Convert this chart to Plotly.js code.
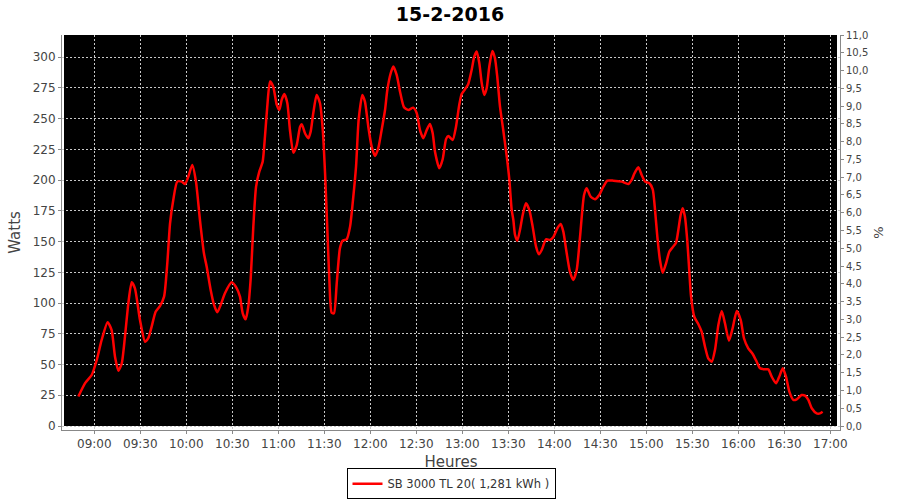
<!DOCTYPE html>
<html>
<head>
<meta charset="utf-8">
<script src="https://cdn.plot.ly/plotly-3.0.1.min.js"></script>
<style>
  html, body { margin: 0; padding: 0; background: #ffffff; }
  #chart { width: 900px; height: 500px; }
</style>
</head>
<body>
<div id="chart"></div>
<script>
// ---- Data ----
const chartDate = '2016-02-15';
const chartTitle = '15-2-2016';
const seriesName = 'SB 3000 TL 20( 1,281 kWh )';

// sample times, minutes after midnight
const minutes = [
  529.6, 533.9, 538.3, 541.6, 544.8, 548.7, 551.3, 553.5, 555.7, 557.9,
  560.0, 562.2, 564.4, 566.5, 569.8, 573.1, 575.2, 577.4, 580.0, 582.8,
  585.5, 587.6, 589.4, 591.5, 594.1, 597.0, 599.2, 601.3, 603.9, 606.3,
  608.9, 611.5, 613.3, 615.9, 618.1, 620.2, 622.4, 625.2, 629.6, 632.9,
  635.0, 636.8, 638.7, 640.4, 642.0, 643.7, 645.5, 647.6, 649.8, 651.3,
  652.8, 654.6, 656.7, 659.0, 660.7, 662.2, 663.9, 665.9, 667.6, 669.8,
  672.0, 674.2, 675.3, 677.4, 679.6, 681.1, 682.8, 685.0, 687.2, 689.0,
  690.5, 692.0, 693.3, 694.8, 696.3, 698.1, 700.2, 702.0, 704.6, 706.8,
  708.5, 710.7, 712.4, 714.8, 716.5, 718.7, 720.9, 723.1, 725.2, 727.4,
  729.6, 731.1, 733.3, 735.0, 737.2, 739.4, 742.0, 744.8, 748.0, 750.3,
  752.4, 754.6, 756.8, 758.9, 760.7, 762.2, 765.0, 767.2, 769.4, 770.9,
  773.7, 775.9, 778.0, 779.6, 781.8, 783.9, 786.1, 787.8, 789.4, 791.1,
  792.7, 794.3, 795.9, 797.6, 799.6, 801.3, 802.8, 804.6, 806.7, 809.0,
  810.7, 812.2, 813.3, 814.4, 815.9, 817.6, 819.4, 821.5, 823.7, 825.9,
  828.1, 830.0, 831.8, 834.6, 837.2, 839.3, 842.0, 844.2, 845.9, 848.1,
  850.2, 852.4, 854.6, 856.8, 859.4, 861.1, 863.7, 866.5, 869.3, 872.0,
  874.6, 878.5, 884.0, 888.3, 890.5, 892.3, 894.8, 897.0, 899.2, 902.0,
  904.2, 905.7, 907.2, 908.9, 910.7, 912.9, 915.0, 917.2, 919.4, 920.9,
  922.4, 923.7, 925.2, 926.7, 928.0, 929.2, 931.3, 933.9, 936.1, 938.3,
  940.4, 942.7, 944.8, 947.0, 949.2, 951.3, 953.9, 956.3, 959.0, 961.6,
  963.7, 966.5, 969.4, 972.0, 974.2, 977.4, 979.6, 981.8, 984.6, 986.7,
  989.0, 991.1, 993.3, 995.9, 998.1, 1001.3, 1003.5, 1005.7, 1007.9, 1011.1,
  1013.3, 1015.0
];

// power in watts
const watts = [
  24.0, 34.7, 41.5, 53.7, 70.0, 84.4, 78.0, 56.4, 45.0, 51.0,
  72.7, 99.8, 116.9, 112.0, 86.2, 68.6, 71.4, 80.8, 93.0, 97.6,
  105.2, 132.4, 164.9, 183.9, 198.8, 198.8, 196.9, 202.8, 212.4, 198.8,
  167.6, 140.5, 129.6, 110.7, 98.5, 92.5, 98.5, 108.0, 116.9, 112.0,
  105.2, 91.7, 86.8, 97.0, 120.0, 162.0, 194.7, 206.9, 215.0, 235.4,
  259.8, 280.2, 276.0, 261.2, 257.1, 265.3, 270.1, 262.6, 240.8, 222.4,
  228.6, 243.5, 245.5, 238.2, 234.1, 239.5, 254.4, 269.3, 262.6, 240.8,
  205.6, 159.5, 118.8, 92.2, 91.7, 116.1, 144.6, 150.8, 151.9, 162.2,
  181.2, 211.0, 249.0, 269.3, 263.9, 243.5, 227.3, 219.7, 226.0, 240.8,
  257.1, 273.4, 287.0, 292.4, 285.6, 272.0, 259.3, 257.1, 259.0, 254.4,
  240.8, 234.1, 240.8, 245.7, 238.2, 223.2, 209.7, 217.0, 233.4, 236.0,
  232.7, 243.5, 261.2, 270.1, 274.0, 278.3, 289.7, 300.5, 304.6, 295.1,
  278.8, 269.3, 274.8, 292.4, 305.1, 299.2, 284.2, 259.8, 240.8, 219.1,
  200.2, 175.8, 167.6, 155.4, 150.8, 159.5, 171.7, 181.2, 175.8, 162.2,
  145.9, 139.7, 143.2, 151.9, 151.3, 153.5, 160.9, 164.4, 158.1, 140.5,
  125.5, 118.8, 126.9, 154.0, 188.0, 193.4, 186.6, 184.5, 188.0, 194.7,
  199.6, 199.6, 198.8, 196.9, 200.2, 205.6, 210.5, 204.2, 198.8, 197.5,
  192.6, 175.8, 154.0, 135.1, 124.7, 132.4, 141.8, 145.4, 149.1, 159.5,
  171.7, 177.1, 170.3, 151.3, 126.9, 105.2, 88.9, 83.0, 76.7, 64.5,
  55.1, 52.3, 61.8, 82.2, 93.6, 83.6, 69.4, 79.5, 93.6, 86.2,
  71.4, 63.2, 58.6, 52.3, 46.9, 46.1, 46.1, 40.1, 34.7, 40.1,
  46.9, 40.1, 27.9, 21.2, 21.7, 25.2, 24.7, 21.2, 14.4, 10.3,
  10.3, 11.6
];

// ---- Helpers ----
function pad(n) { return (n < 10 ? '0' : '') + n; }
function toTime(m) {
  const totalSec = Math.round(m * 60);
  const h = Math.floor(totalSec / 3600);
  const mi = Math.floor((totalSec % 3600) / 60);
  const s = totalSec % 60;
  return chartDate + ' ' + pad(h) + ':' + pad(mi) + ':' + pad(s);
}
const times = minutes.map(toTime);

const tickFont = { family: 'DejaVu Sans, sans-serif', size: 12, color: '#444444' };
const titleFont = { family: 'DejaVu Sans, sans-serif', size: 15, color: '#444444' };

const traces = [
  {
    type: 'scatter',
    mode: 'lines',
    x: times,
    y: watts,
    name: seriesName,
    line: { color: '#ff0000', width: 2.5, shape: 'spline', smoothing: 0.6 },
    xaxis: 'x',
    yaxis: 'y',
    hoverinfo: 'x+y'
  },
  {
    type: 'scatter',
    mode: 'lines',
    x: [],
    y: [],
    xaxis: 'x',
    yaxis: 'y2',
    showlegend: false,
    hoverinfo: 'skip'
  }
];

const layout = {
  width: 900,
  height: 500,
  paper_bgcolor: '#ffffff',
  plot_bgcolor: '#ffffff',
  separators: ', ',
  margin: { l: 62, r: 60, t: 35, b: 70, pad: 0, autoexpand: false },
  title: {
    text: '<b>' + chartTitle + '</b>',
    font: { family: 'DejaVu Sans, sans-serif', size: 19, color: '#000000' },
    x: 0.5,
    xanchor: 'center',
    y: 0.972,
    yanchor: 'middle'
  },
  showlegend: true,
  legend: {
    orientation: 'h',
    x: 0.5,
    xanchor: 'center',
    y: -0.097,
    yanchor: 'top',
    bordercolor: '#000000',
    borderwidth: 1,
    bgcolor: '#ffffff',
    font: { family: 'DejaVu Sans, sans-serif', size: 11.5, color: '#333333' },
    itemwidth: 30,
    tracegroupgap: 0
  },
  xaxis: {
    type: 'date',
    range: ['2016-02-15 08:38:56', '2016-02-15 17:06:20'],
    tick0: '2016-02-15 09:00:00',
    dtick: 1800000,
    tickformat: '%H:%M',
    showgrid: true,
    gridcolor: '#c8c8c8',
    gridwidth: 1,
    griddash: '2px,2px',
    zeroline: false,
    showline: true,
    linecolor: '#888888',
    linewidth: 1,
    ticks: 'outside',
    ticklen: 3,
    tickcolor: '#888888',
    tickfont: tickFont,
    automargin: false,
    title: { text: 'Heures', font: titleFont, standoff: 6 },
    fixedrange: true
  },
  yaxis: {
    range: [-3.25, 318.1],
    tick0: 0,
    dtick: 25,
    showgrid: true,
    gridcolor: '#c8c8c8',
    gridwidth: 1,
    griddash: '2px,2px',
    zeroline: false,
    showline: true,
    linecolor: '#888888',
    linewidth: 1,
    ticks: 'outside',
    ticklen: 3,
    tickcolor: '#888888',
    tickfont: tickFont,
    automargin: false,
    title: { text: 'Watts', font: titleFont, standoff: 8 },
    fixedrange: true
  },
  yaxis2: {
    overlaying: 'y',
    side: 'right',
    range: [-0.1125, 11.0],
    tick0: 0,
    dtick: 0.5,
    tickformat: '.1f',
    showgrid: false,
    zeroline: false,
    showline: true,
    linecolor: '#888888',
    linewidth: 1,
    ticks: 'outside',
    ticklen: 3,
    tickcolor: '#888888',
    tickfont: { family: 'DejaVu Sans, sans-serif', size: 10, color: '#444444' },
    automargin: false,
    title: { text: '%', font: { family: 'DejaVu Sans, sans-serif', size: 13, color: '#444444' }, standoff: 6 },
    fixedrange: true
  },
  shapes: [
    // black plotting surface, inset from the axis lines
    { type: 'rect', xref: 'paper', yref: 'paper', x0: 0.00257, x1: 0.99614, y0: 0.01013, y1: 1,
      fillcolor: '#000000', line: { width: 0 }, layer: 'below' },
    // white gaps between surface and axis lines (hide grid overflow)
    { type: 'rect', xref: 'paper', yref: 'paper', x0: 0, x1: 1, y0: 0, y1: 0.01013,
      fillcolor: '#ffffff', line: { width: 0 }, layer: 'between' },
    { type: 'rect', xref: 'paper', yref: 'paper', x0: 0, x1: 0.00257, y0: 0, y1: 1,
      fillcolor: '#ffffff', line: { width: 0 }, layer: 'between' },
    { type: 'rect', xref: 'paper', yref: 'paper', x0: 0.99614, x1: 1, y0: 0, y1: 1,
      fillcolor: '#ffffff', line: { width: 0 }, layer: 'between' }
  ]
};

Plotly.newPlot('chart', traces, layout, { displayModeBar: false, staticPlot: true });
</script>
</body>
</html>
